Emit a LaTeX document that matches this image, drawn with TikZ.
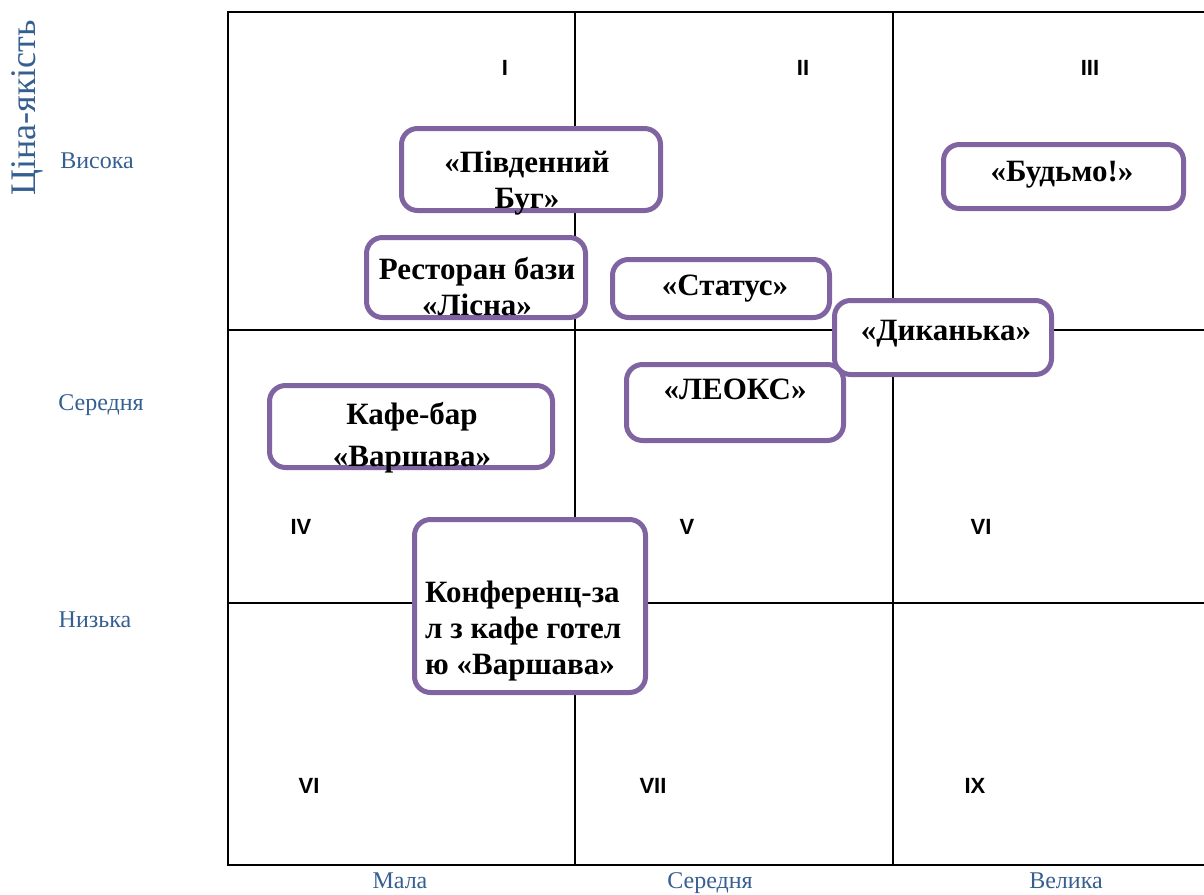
\documentclass[tikz,border=0pt]{standalone}
\usepackage{fontspec}
\setmainfont{Liberation Serif}
\newfontfamily\romfont{Liberation Sans}
\definecolor{boxpurple}{RGB}{128,100,162}
\definecolor{axisblue}{RGB}{54,95,145}
\begin{document}
\begin{tikzpicture}[x=1pt,y=-1pt]
        \tikzstyle{firm}=[draw=boxpurple,line width=5pt,rounded corners=16pt,fill=white,inner sep=0pt]
        \tikzstyle{firmtext}=[font=\fontsize{31}{36}\selectfont\bfseries,align=center,inner sep=0pt]
        \tikzstyle{zone}=[font=\romfont\fontsize{22}{23}\selectfont\bfseries,inner sep=0pt]
        \tikzstyle{axis}=[font=\fontsize{24}{26}\selectfont,text=axisblue,inner sep=0pt,anchor=base]
        \tikzstyle{grid}=[draw,line width=1.4pt]
       \useasboundingbox (0,0) rectangle (1204,894);
       % matrix lines
       \begin{scope}
         \coordinate (tl) at (228,12);
         \coordinate (bl) at (228,865);
         \coordinate (tr) at (1204,12);
         \coordinate (br) at (1204,865);
         \coordinate (v1t) at (575,12);  \coordinate (v1b) at (575,865);
         \coordinate (v2t) at (893,12);  \coordinate (v2b) at (893,865);
         \coordinate (h1l) at (228,330); \coordinate (h1r) at (1204,330);
         \coordinate (h2l) at (228,603); \coordinate (h2r) at (1204,603);
         \path[grid] (tr) -- (tl) -- (bl) -- (br);
         \path[grid] (v1t) -- (v1b) (v2t) -- (v2b);
         \path[grid] (h1l) -- (h1r) (h2l) -- (h2r);
       \end{scope}
       % zone numbers
       \node [zone] (z1) at (505,68) {I};
       \node [zone] (z2) at (803,68) {II};
       \node [zone] (z3) at (1090,68) {III};
       \node [zone] (z4) at (301,527) {IV};
       \node [zone] (z5) at (687,527) {V};
       \node [zone] (z6) at (981,527) {VI};
       \node [zone] (z7) at (309,786) {VI};
       \node [zone] (z8) at (653,786) {VII};
       \node [zone] (z9) at (975,786) {IX};
       % axes
       \node [axis,anchor=center,rotate=90,font=\fontsize{36}{38}\selectfont] (yax) at (27,108) {Ціна-якість};
       \node [axis] (hi) at (97,168) {Висока};
       \node [axis] (mid) at (101,410) {Середня};
       \node [axis] (lo) at (95,627) {Низька};
       \node [axis] (small) at (400,888) {Мала};
       \node [axis] (medium) at (710,888) {Середня};
       \node [axis] (large) at (1066,888) {Велика};
       % firms
       \node [firm,minimum width=259pt,minimum height=82pt] (pb) at (531,169.5) {};
       \node [firmtext] at (527,183) {«Південний\\Буг»};
       \node [firm,minimum width=219pt,minimum height=80pt] (lisna) at (476,277.5) {};
       \node [firmtext] at (477,287) {Ресторан бази\\«Лісна»};
       \node [firm,minimum width=217pt,minimum height=58pt] (status) at (721,288.5) {};
       \node [firmtext] at (725,289) {«Статус»};
       \node [firm,minimum width=240pt,minimum height=64pt] (budmo) at (1063.5,176.5) {};
       \node [firmtext] at (1062,175) {«Будьмо!»};
       \node [firm,minimum width=217pt,minimum height=74pt] (dyk) at (943,337.5) {};
       \node [firmtext] at (946,334) {«Диканька»};
       \node [firm,minimum width=217pt,minimum height=76pt] (leoks) at (735,402.5) {};
       \node [firmtext] at (735,389) {«ЛЕОКС»};
       \node [firm,minimum width=283pt,minimum height=82pt] (varsh) at (411,426.5) {};
       \node [firmtext,font=\fontsize{31}{42}\selectfont\bfseries] at (412,438) {Кафе-бар\\«Варшава»};
       \node [firm,minimum width=231pt,minimum height=173pt] (konf) at (530,606) {};
       \node [firmtext,align=left,anchor=west] at (425,631) {Конференц-за\\л з кафе готел\\ю «Варшава»};
      \end{tikzpicture}
\end{document}
